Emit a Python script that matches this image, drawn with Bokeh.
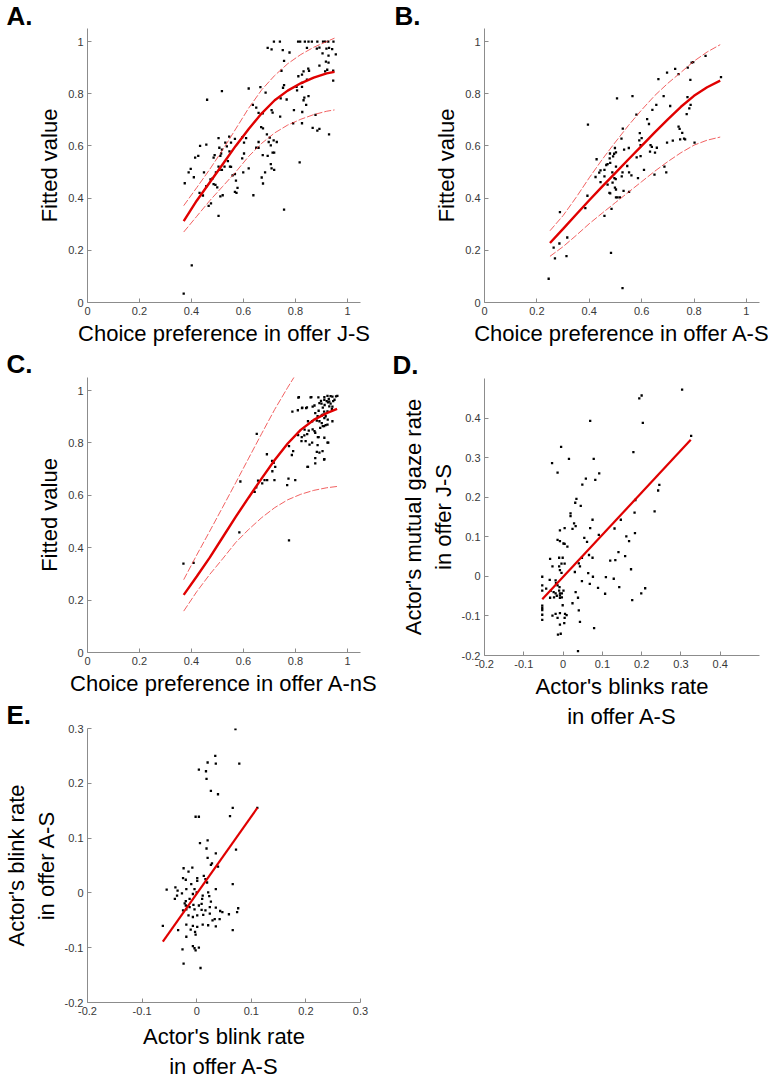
from bokeh.plotting import figure
from bokeh.layouts import row, column
from bokeh.models import FixedTicker, Range1d, NumeralTickFormatter, Title
from bokeh.embed import file_html
from bokeh.resources import INLINE

FONT = "Liberation Sans"

# ---------------- Panel A: choice preference J-S vs fitted value ----------------
a_x = [0.717, 0.740, 0.810, 0.818, 0.836, 0.850, 0.863, 0.884, 0.906, 0.914, 0.926, 0.946,
       0.693, 0.708, 0.751, 0.777, 0.756, 0.746, 0.756, 0.752, 0.766, 0.743,
       0.844, 0.882, 0.892, 0.904, 0.919, 0.929, 0.941, 0.955, 0.927, 0.892,
       0.917, 0.922, 0.914, 0.927, 0.945, 0.849, 0.852, 0.831, 0.825, 0.811,
       0.844, 0.825, 0.804, 0.806, 0.825, 0.834, 0.831, 0.850, 0.841, 0.826,
       0.794, 0.791, 0.825, 0.877, 0.866, 0.884, 0.892, 0.929, 0.945,
       0.620, 0.665, 0.685, 0.517, 0.460, 0.636, 0.649, 0.658, 0.674, 0.708,
       0.712, 0.741, 0.668, 0.675, 0.690, 0.701, 0.716, 0.728, 0.658, 0.649,
       0.658, 0.504, 0.507, 0.517, 0.530, 0.545, 0.552, 0.536, 0.546, 0.567,
       0.595, 0.602, 0.610, 0.697, 0.705, 0.433, 0.457,
       0.374, 0.389, 0.397, 0.409, 0.414, 0.426, 0.448, 0.431, 0.444, 0.457,
       0.466, 0.475, 0.473, 0.481, 0.485, 0.489, 0.511, 0.514, 0.504, 0.508,
       0.517, 0.494, 0.485, 0.492, 0.499, 0.504, 0.511, 0.520, 0.527, 0.540,
       0.548, 0.558, 0.567, 0.571, 0.567, 0.573, 0.577, 0.595, 0.602, 0.599,
       0.620, 0.638, 0.670, 0.675, 0.683, 0.674, 0.693, 0.705, 0.708, 0.718,
       0.712, 0.718, 0.756, 0.816, 0.401, 0.370, 0.552]
a_y = [1, 1, 1, 1, 1, 1, 1, 1, 1, 1, 1, 1,
       0.976, 0.970, 0.967, 0.958, 0.926, 0.888, 0.833, 0.823, 0.778, 0.782,
       0.976, 0.973, 0.977, 0.955, 0.973, 0.976, 0.971, 0.951, 0.946, 0.908,
       0.923, 0.892, 0.886, 0.919, 0.888, 0.896, 0.888, 0.886, 0.873, 0.867,
       0.854, 0.842, 0.826, 0.813, 0.826, 0.785, 0.775, 0.791, 0.757, 0.730,
       0.737, 0.687, 0.687, 0.719, 0.669, 0.659, 0.665, 0.644, 0.850,
       0.820, 0.825, 0.804, 0.810, 0.777, 0.757, 0.747, 0.727, 0.725, 0.737,
       0.728, 0.712, 0.672, 0.667, 0.644, 0.632, 0.621, 0.615, 0.615, 0.593,
       0.593, 0.630, 0.593, 0.586, 0.613, 0.636, 0.613, 0.598, 0.579, 0.627,
       0.633, 0.613, 0.630, 0.615, 0.602, 0.600, 0.605,
       0.457, 0.499, 0.512, 0.480, 0.555, 0.562, 0.499, 0.420, 0.410, 0.446,
       0.370, 0.380, 0.472, 0.476, 0.555, 0.565, 0.562, 0.571, 0.521, 0.508,
       0.508, 0.499, 0.454, 0.451, 0.441, 0.332, 0.407, 0.411, 0.521, 0.542,
       0.521, 0.487, 0.492, 0.467, 0.424, 0.420, 0.439, 0.552, 0.571, 0.499,
       0.514, 0.411, 0.479, 0.456, 0.499, 0.565, 0.562, 0.530, 0.514, 0.508,
       0.574, 0.574, 0.356, 0.537, 0.142, 0.034, 0.520]
a_fit_x = [0.37, 0.42, 0.47, 0.52, 0.57, 0.62, 0.67, 0.72, 0.77, 0.82, 0.87, 0.92, 0.95]
a_fit_y = [0.312, 0.390, 0.460, 0.530, 0.600, 0.665, 0.725, 0.775, 0.812, 0.840, 0.862, 0.878, 0.884]
a_hi_y = [0.371, 0.440, 0.510, 0.585, 0.665, 0.745, 0.815, 0.870, 0.915, 0.950, 0.978, 1.000, 1.013]
a_lo_y = [0.270, 0.330, 0.390, 0.445, 0.500, 0.560, 0.610, 0.650, 0.680, 0.702, 0.720, 0.733, 0.738]

# ---------------- Panel B: choice preference A-S vs fitted value ----------------
b_x = [0.844, 0.797, 0.791, 0.776, 0.728, 0.697, 0.741, 0.664, 0.786, 0.903,
       0.506, 0.565, 0.395, 0.684, 0.775, 0.656, 0.709, 0.787, 0.782, 0.641,
       0.580, 0.772, 0.621, 0.628, 0.528, 0.741, 0.745, 0.755, 0.762, 0.593,
       0.600, 0.591, 0.747, 0.766, 0.719, 0.697, 0.802, 0.523, 0.596, 0.634,
       0.639, 0.658, 0.632, 0.651, 0.551, 0.533, 0.498, 0.502, 0.495, 0.479,
       0.491, 0.478, 0.480, 0.470, 0.465, 0.428, 0.502, 0.545, 0.581, 0.596,
       0.609, 0.443, 0.458, 0.438, 0.488, 0.527, 0.552, 0.524, 0.561, 0.458,
       0.424, 0.496, 0.501, 0.443, 0.489, 0.586, 0.649, 0.687, 0.694, 0.470,
       0.498, 0.502, 0.531, 0.552, 0.477, 0.480, 0.502, 0.508, 0.517, 0.393,
       0.385, 0.485, 0.458, 0.316, 0.313, 0.483, 0.527, 0.245, 0.264, 0.269,
       0.286, 0.288]
b_y = [0.945, 0.921, 0.919, 0.900, 0.895, 0.881, 0.875, 0.856, 0.853, 0.864,
       0.782, 0.791, 0.682, 0.791, 0.787, 0.757, 0.753, 0.757, 0.744, 0.738,
       0.720, 0.722, 0.703, 0.684, 0.666, 0.674, 0.665, 0.650, 0.628, 0.649,
       0.630, 0.621, 0.625, 0.625, 0.620, 0.613, 0.613, 0.628, 0.603, 0.603,
       0.596, 0.593, 0.578, 0.574, 0.592, 0.586, 0.592, 0.575, 0.570, 0.571,
       0.560, 0.552, 0.535, 0.530, 0.527, 0.549, 0.521, 0.523, 0.556, 0.561,
       0.508, 0.506, 0.508, 0.498, 0.499, 0.499, 0.499, 0.483, 0.487, 0.483,
       0.481, 0.477, 0.473, 0.461, 0.459, 0.477, 0.490, 0.521, 0.499, 0.452,
       0.440, 0.433, 0.428, 0.424, 0.420, 0.418, 0.403, 0.403, 0.403, 0.409,
       0.362, 0.359, 0.332, 0.249, 0.178, 0.190, 0.055, 0.091, 0.210, 0.169,
       0.226, 0.346]
b_fit_x = [0.25, 0.30, 0.35, 0.40, 0.45, 0.50, 0.55, 0.60, 0.65, 0.70, 0.75, 0.80, 0.85, 0.90]
b_fit_y = [0.228, 0.282, 0.337, 0.392, 0.445, 0.497, 0.549, 0.600, 0.652, 0.702, 0.750, 0.792, 0.825, 0.850]
b_hi_y = [0.275, 0.333, 0.403, 0.478, 0.549, 0.615, 0.679, 0.738, 0.793, 0.840, 0.882, 0.925, 0.960, 0.988]
b_lo_y = [0.177, 0.214, 0.257, 0.302, 0.343, 0.383, 0.423, 0.463, 0.503, 0.540, 0.574, 0.603, 0.622, 0.634]

# ---------------- Panel C: choice preference A-nS vs fitted value ----------------
c_x = [0.369, 0.408, 0.584, 0.775, 0.588, 0.651, 0.690, 0.710, 0.716, 0.722,
       0.711, 0.691, 0.681, 0.672, 0.656, 0.649, 0.638, 0.643, 0.719, 0.773,
       0.768, 0.799, 0.775, 0.791, 0.786, 0.846, 0.788, 0.811, 0.809, 0.826,
       0.841, 0.858, 0.888, 0.935, 0.942, 0.956, 0.928, 0.866, 0.876, 0.885,
       0.901, 0.910, 0.916, 0.924, 0.864, 0.882, 0.901, 0.910, 0.916, 0.895,
       0.866, 0.876, 0.851, 0.845, 0.834, 0.824, 0.839, 0.864, 0.885, 0.926,
       0.889, 0.904, 0.882, 0.876, 0.876, 0.910, 0.889,
       0.900, 0.912, 0.925, 0.935, 0.945, 0.930, 0.940, 0.950, 0.920, 0.905,
       0.813, 0.861, 0.911, 0.923, 0.961, 0.825, 0.844, 0.873, 0.892, 0.898,
       0.911, 0.930, 0.942, 0.923, 0.905, 0.848, 0.835, 0.873, 0.892, 0.911,
       0.905, 0.923, 0.942, 0.886, 0.911, 0.854, 0.892, 0.923, 0.911, 0.848,
       0.810, 0.823]
c_y = [0.339, 0.342, 0.459, 0.428, 0.653, 0.835, 0.757, 0.732, 0.724, 0.709,
       0.692, 0.658, 0.658, 0.646, 0.656, 0.631, 0.615, 0.613, 0.658, 0.664,
       0.639, 0.658, 0.788, 0.769, 0.754, 0.709, 0.920, 0.973, 0.925, 0.935,
       0.933, 0.974, 0.974, 0.979, 0.977, 0.978, 0.968, 0.939, 0.914, 0.902,
       0.905, 0.920, 0.902, 0.889, 0.883, 0.885, 0.876, 0.864, 0.868, 0.858,
       0.852, 0.839, 0.847, 0.834, 0.829, 0.822, 0.807, 0.801, 0.792, 0.801,
       0.822, 0.769, 0.766, 0.742, 0.722, 0.737, 0.923,
       0.950, 0.945, 0.955, 0.950, 0.960, 0.940, 0.930, 0.965, 0.960, 0.935,
       0.975, 0.975, 0.975, 0.980, 0.980, 0.933, 0.936, 0.943, 0.952, 0.961,
       0.965, 0.958, 0.939, 0.921, 0.908, 0.883, 0.851, 0.845, 0.883, 0.895,
       0.864, 0.870, 0.883, 0.822, 0.820, 0.794, 0.763, 0.801, 0.738, 0.709,
       0.830, 0.807]
c_fit_x = [0.37, 0.42, 0.47, 0.52, 0.57, 0.62, 0.67, 0.72, 0.77, 0.82, 0.87, 0.92, 0.96]
c_fit_y = [0.220, 0.290, 0.362, 0.440, 0.518, 0.592, 0.665, 0.735, 0.798, 0.850, 0.888, 0.914, 0.930]
c_hi_x = [0.37, 0.42, 0.47, 0.52, 0.57, 0.62, 0.67, 0.72, 0.77, 0.80]
c_hi_y = [0.278, 0.372, 0.463, 0.555, 0.648, 0.742, 0.836, 0.928, 1.012, 1.060]
c_lo_y = [0.158, 0.232, 0.298, 0.358, 0.420, 0.470, 0.515, 0.553, 0.583, 0.604, 0.619, 0.629, 0.634]

# ---------------- Panel D: blinks rate A-S vs mutual gaze rate J-S ----------------
d_x = [0.303, 0.194, 0.200, 0.203, 0.069, -0.005, 0.015, 0.078, -0.028, -0.014,
       0.326, 0.179, 0.092, 0.058, 0.082, 0.049, 0.034, 0.031, 0.045, 0.245,
       0.242, 0.233, 0.184, 0.182, 0.019, 0.019, 0.028, 0.032, 0.024, 0.004,
       -0.008, 0.075, 0.069, 0.147, 0.091, 0.054, 0.061, -0.014, -0.008, 0.001,
       0.004, 0.011, 0.183, 0.161, 0.168, 0.131, -0.033, -0.027, -0.010, -0.001,
       -0.004, -0.010, 0.004, -0.008, -0.004, 0.030, 0.040, 0.043, 0.048, 0.066,
       0.075, 0.064, 0.048, 0.076, 0.068, 0.089, 0.032, 0.038, 0.024, 0.040,
       0.043, 0.079, 0.038, 0.120, 0.133, 0.141, 0.158, 0.109, 0.129, 0.143,
       0.107, 0.173, 0.176, 0.199, 0.209, -0.053, -0.053, -0.053, -0.053, -0.053,
       -0.053, -0.053, -0.053, -0.043, -0.034, -0.031, -0.024, -0.019, -0.018, -0.014,
       -0.009, -0.010, -0.008, -0.008, -0.008, -0.003, -0.003, -0.019, -0.016, -0.023,
       -0.033, 0.001, -0.019, -0.027, -0.014, -0.008, -0.001, 0.005, 0.009, 0.004,
       -0.008, -0.013, -0.006, 0.003]
d_y = [0.472, 0.450, 0.457, 0.388, 0.393, 0.327, 0.297, 0.297, 0.286, 0.262,
       0.355, 0.314, 0.260, 0.247, 0.244, 0.232, 0.196, 0.186, 0.178, 0.231,
       0.217, 0.164, 0.193, 0.161, 0.159, 0.152, 0.134, 0.127, 0.120, 0.122,
       0.116, 0.143, 0.122, 0.143, 0.105, 0.097, 0.087, 0.092, 0.089, 0.083,
       0.082, 0.075, 0.109, 0.101, 0.089, 0.121, 0.044, 0.025, 0.047, 0.047,
       0.032, 0.025, 0.032, 0.016, 0.009, 0.011, 0.033, 0.025, 0.047, 0.054,
       0.047, 0.008, -0.012, -0.001, -0.019, -0.029, -0.040, -0.054, -0.068, -0.086,
       -0.115, -0.131, -0.189, 0.040, 0.041, 0.061, 0.051, -0.002, -0.006, -0.027,
       -0.044, 0.018, -0.060, -0.043, -0.030, -0.001, -0.023, -0.036, -0.074, -0.080,
       -0.085, -0.097, -0.110, -0.031, -0.009, -0.036, -0.040, -0.010, -0.017, -0.023,
       -0.027, -0.036, -0.043, -0.048, -0.054, -0.043, -0.053, -0.043, -0.049, -0.053,
       -0.054, -0.036, -0.095, -0.099, -0.105, -0.093, -0.073, -0.095, -0.098, -0.105,
       -0.122, -0.147, -0.145, -0.118]
d_fit_x = [-0.053, 0.325]
d_fit_y = [-0.058, 0.345]

# ---------------- Panel E: blink rate A-S vs blink rate A-S ----------------
e_x = [0.071, 0.034, 0.035, 0.020, 0.078, 0.004, 0.017, 0.018, 0.026, 0.039,
       0.066, 0.111, 0.061, -0.002, 0.004, 0.006, 0.020, 0.018, 0.072, 0.020,
       0.035, 0.028, 0.026, 0.039, -0.024, -0.008, -0.015, -0.025, -0.020, 0.001,
       0.001, 0.013, 0.016, 0.019, -0.010, 0.066, -0.055, -0.039, -0.035, -0.027,
       -0.019, -0.036, -0.040, -0.020, -0.022, -0.020, -0.017, -0.013, -0.007, -0.004,
       0.000, 0.010, 0.011, 0.021, 0.023, 0.035, 0.026, 0.009, 0.004, -0.006,
       -0.013, -0.019, -0.025, -0.004, 0.009, 0.016, 0.024, 0.035, 0.043, 0.047,
       0.059, 0.076, 0.074, -0.015, -0.007, 0.001, 0.012, 0.024, 0.033, 0.029,
       0.042, -0.019, -0.007, 0.001, 0.011, 0.021, 0.035, 0.066, -0.062, -0.034,
       -0.011, -0.003, -0.002, -0.019, -0.026, -0.007, -0.004, -0.002, 0.004, -0.024,
       0.007]
e_y = [0.299, 0.250, 0.236, 0.238, 0.236, 0.225, 0.222, 0.208, 0.186, 0.180,
       0.155, 0.155, 0.140, 0.139, 0.139, 0.091, 0.096, 0.081, 0.079, 0.064,
       0.072, 0.054, 0.051, 0.048, 0.045, 0.046, 0.039, 0.027, 0.024, 0.027,
       0.022, 0.031, 0.025, 0.019, 0.016, 0.016, 0.006, 0.010, 0.004, -0.001,
       0.007, -0.005, -0.011, -0.015, -0.019, -0.023, -0.024, -0.011, -0.002, 0.007,
       0.001, -0.011, -0.005, 0.001, -0.006, 0.007, -0.016, -0.020, -0.023, -0.022,
       -0.026, -0.030, -0.032, -0.030, -0.031, -0.032, -0.026, -0.027, -0.033, -0.035,
       -0.039, -0.028, -0.035, -0.041, -0.044, -0.041, -0.040, -0.038, -0.048, -0.050,
       -0.048, -0.058, -0.060, -0.062, -0.058, -0.059, -0.061, -0.068, -0.060, -0.068,
       -0.067, -0.071, -0.076, -0.080, -0.103, -0.097, -0.101, -0.105, -0.100, -0.129,
       -0.137]
e_fit_x = [-0.062, 0.111]
e_fit_y = [-0.089, 0.155]

# ---------------- tick positions and labels ----------------
unit_ticks = [0, 0.2, 0.4, 0.6, 0.8, 1]
unit_labels = ["0", "0.2", "0.4", "0.6", "0.8", "1"]
d_ticks = [-0.2, -0.1, 0, 0.1, 0.2, 0.3, 0.4]
d_labels = ["-0.2", "-0.1", "0", "0.1", "0.2", "0.3", "0.4"]
e_ticks = [-0.2, -0.1, 0, 0.1, 0.2, 0.3]
e_labels = ["-0.2", "-0.1", "0", "0.1", "0.2", "0.3"]

FIT_RED = "#e00000"
CI_RED = "#ee3a3a"
AX_GRAY = "#8c8c8c"


def make_panel(width, height, left, right, top, bottom, xr, yr,
               xt, xl, yt, yl, xlabel, ylabel, letter, letter_x, letter_standoff,
               xlabel_standoff=3):
    p = figure(width=width, height=height,
               x_range=Range1d(*xr), y_range=Range1d(*yr),
               output_backend="svg", toolbar_location=None,
               min_border_left=left, min_border_right=right,
               min_border_top=top, min_border_bottom=bottom)
    t = Title(text=letter, align="left", vertical_align="bottom",
              offset=letter_x - left, text_font=FONT, text_font_size="26px",
              text_font_style="bold", text_color="black")
    try:
        t.standoff = letter_standoff
    except Exception:
        t.standoff = 0
    p.title = t
    p.outline_line_color = None
    p.xgrid.visible = False
    p.ygrid.visible = False
    p.background_fill_color = "white"
    p.border_fill_color = "white"
    for ax, ticks, labels, lab, stand in ((p.xaxis[0], xt, xl, xlabel, xlabel_standoff),
                                          (p.yaxis[0], yt, yl, ylabel, 3)):
        ax.ticker = FixedTicker(ticks=ticks)
        ax.formatter = NumeralTickFormatter(format="0.[0]")
        ax.major_label_overrides = dict(zip(ticks, labels))
        ax.axis_label = lab
        ax.axis_line_color = AX_GRAY
        ax.axis_line_width = 1
        ax.major_tick_line_color = AX_GRAY
        ax.major_tick_in = 4
        ax.major_tick_out = 0
        ax.minor_tick_line_color = None
        ax.major_label_text_font = FONT
        ax.major_label_text_font_size = "11px"
        ax.major_label_text_color = "#383838"
        ax.major_label_standoff = 4
        ax.axis_label_text_font = FONT
        ax.axis_label_text_font_size = "22px"
        ax.axis_label_text_font_style = "normal"
        ax.axis_label_text_color = "black"
        ax.axis_label_standoff = stand
        ax.axis_label_text_line_height = 1.2
    return p


def add_curves(p, fx, fy, hx, hy, lx, ly):
    p.line(hx, hy, line_color=CI_RED, line_width=1, line_dash="7 2", line_alpha=0.8)
    p.line(lx, ly, line_color=CI_RED, line_width=1, line_dash="7 2", line_alpha=0.8)
    p.line(fx, fy, line_color=FIT_RED, line_width=2.4)


def add_dots(p, x, y):
    p.scatter(x, y, marker="square", size=2.3, fill_color="black",
              line_color=None)


# Panel A  (page y 0-348, frame 28-303)
pA = make_panel(384, 348, 83, 22, 28, 45, (0, 1.05), (0, 1.05),
                unit_ticks, unit_labels, unit_ticks, unit_labels,
                "Choice preference in offer J-S", "Fitted value", "A.", 2, -4)
add_dots(pA, a_x, a_y)
add_curves(pA, a_fit_x, a_fit_y, a_fit_x, a_hi_y, a_fit_x, a_lo_y)

# Panel B
pB = make_panel(384, 348, 98, 9, 28, 45, (0, 1.05), (0, 1.05),
                unit_ticks, unit_labels, unit_ticks, unit_labels,
                "Choice preference in offer A-S", "Fitted value", "B.", 8, -4)
add_dots(pB, b_x, b_y)
add_curves(pB, b_fit_x, b_fit_y, b_fit_x, b_hi_y, b_fit_x, b_lo_y)

# Panel C  (page y 348-698, frame 377-653)
pC = make_panel(384, 350, 83, 22, 29, 45, (0, 1.05), (0, 1.05),
                unit_ticks, unit_labels, unit_ticks, unit_labels,
                "Choice preference in offer A-nS", "Fitted value", "C.", 2, -3)
add_dots(pC, c_x, c_y)
add_curves(pC, c_fit_x, c_fit_y, c_hi_x, c_hi_y, c_fit_x, c_lo_y)

# Panel D  (page y 348-731, frame 378-655)
pD = make_panel(384, 383, 100, 7, 30, 76, (-0.2, 0.5), (-0.2, 0.5),
                d_ticks, d_labels, d_ticks, d_labels,
                "Actor's blinks rate\nin offer A-S",
                "Actor's mutual gaze rate\nin offer J-S", "D.", 8, -2)
add_dots(pD, d_x, d_y)
pD.line(d_fit_x, d_fit_y, line_color=FIT_RED, line_width=2.2)

# Panel E  (page y 698-1081, frame 728-1005)
pE = make_panel(384, 383, 83, 24, 30, 76, (-0.2, 0.3), (-0.2, 0.3),
                e_ticks, e_labels, e_ticks, e_labels,
                "Actor's blink rate\nin offer A-S",
                "Actor's blink rate\nin offer A-S", "E.", 2, -2,
                xlabel_standoff=6)
add_dots(pE, e_x, e_y)
pE.line(e_fit_x, e_fit_y, line_color=FIT_RED, line_width=2.2)

layout = row(column(pA, pC, pE), column(pB, pD))

open("out.html", "w").write(file_html(layout, INLINE))
